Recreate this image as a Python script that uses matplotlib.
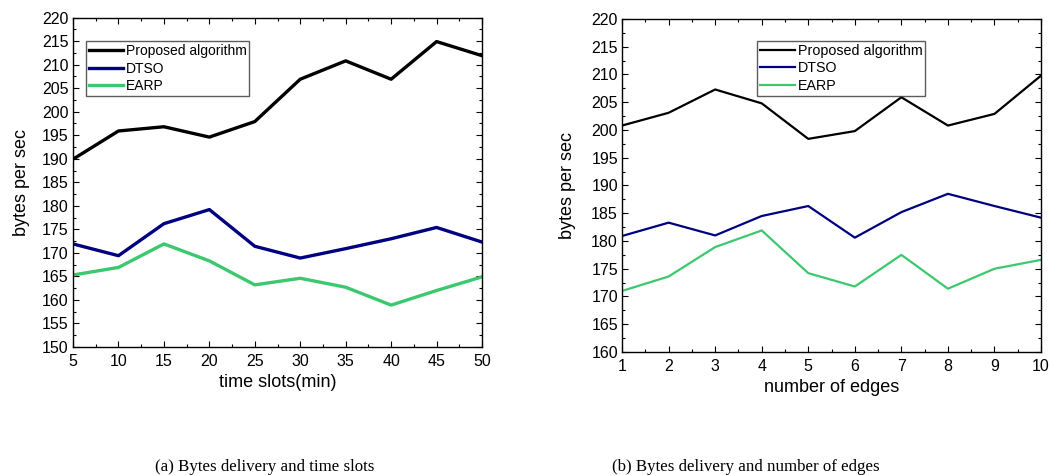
import matplotlib
matplotlib.use("Agg")
import matplotlib.pyplot as plt
from matplotlib.ticker import MultipleLocator

plt.rcParams['font.family'] = ['Liberation Sans', 'DejaVu Sans']

time_slots = [5, 10, 15, 20, 25, 30, 35, 40, 45, 50]
a_proposed = [189.9, 195.9, 196.8, 194.6, 197.9, 206.9, 210.8, 206.9, 214.9, 211.9]
a_dtso = [171.9, 169.4, 176.2, 179.2, 171.4, 168.9, 170.9, 173.0, 175.4, 172.3]
a_earp = [165.3, 166.9, 171.9, 168.3, 163.2, 164.6, 162.7, 158.9, 162.0, 164.9]

edges = [1, 2, 3, 4, 5, 6, 7, 8, 9, 10]
b_proposed = [200.8, 203.1, 207.3, 204.8, 198.4, 199.8, 205.9, 200.8, 202.9, 209.8]
b_dtso = [180.9, 183.3, 181.0, 184.5, 186.3, 180.6, 185.2, 188.5, 186.3, 184.2]
b_earp = [171.0, 173.6, 178.9, 181.9, 174.2, 171.8, 177.5, 171.4, 175.0, 176.6]

series_names = ['Proposed algorithm', 'DTSO', 'EARP']
colors = ['#000000', '#000080', '#3cc86e']

fig = plt.figure(figsize=(10.49, 4.75), dpi=100)
ax1 = fig.add_axes([0.0696, 0.2695, 0.3899, 0.6935])
ax2 = fig.add_axes([0.593, 0.259, 0.3994, 0.701])


def style(ax, xs, ylim, xlabel, ylabelpad):
    ax.set_xlim(xs[0], xs[-1])
    ax.set_ylim(*ylim)
    ax.xaxis.set_major_locator(MultipleLocator(xs[1] - xs[0]))
    ax.xaxis.set_minor_locator(MultipleLocator((xs[1] - xs[0]) / 2))
    ax.yaxis.set_major_locator(MultipleLocator(5))
    ax.yaxis.set_minor_locator(MultipleLocator(2.5))
    ax.tick_params(which='both', direction='in', top=True, right=True,
                   labelsize=11.5, width=0.8, pad=3)
    ax.tick_params(axis='x', pad=5)
    ax.tick_params(which='major', length=4)
    ax.tick_params(which='minor', length=2)
    ax.set_xlabel(xlabel, fontsize=13, labelpad=4)
    ax.set_ylabel('bytes per sec', fontsize=13, labelpad=ylabelpad)
    for s in ax.spines.values():
        s.set_linewidth(1.0)


def legend(ax, anchor, size):
    leg = ax.legend(loc='upper left', bbox_to_anchor=anchor, fontsize=size,
                    frameon=True, fancybox=False, edgecolor='#333333',
                    handlelength=2.45, handletextpad=0.2, borderpad=0.2,
                    labelspacing=0.25, borderaxespad=0)
    leg.get_frame().set_linewidth(1.0)


for vals, name, c in zip([a_proposed, a_dtso, a_earp], series_names, colors):
    ax1.plot(time_slots, vals, color=c, lw=2.4, label=name)
style(ax1, time_slots, (150, 220), 'time slots(min)', 9)
legend(ax1, (0.032, 0.928), 10)

for vals, name, c in zip([b_proposed, b_dtso, b_earp], series_names, colors):
    ax2.plot(edges, vals, color=c, lw=1.6, label=name)
style(ax2, edges, (160, 220), 'number of edges', 11)
ax2.xaxis.set_minor_locator(MultipleLocator(0.5))
legend(ax2, (0.322, 0.934), 10.3)

serif = ['Liberation Serif', 'DejaVu Serif']
fig.text(0.2525, 0.0, '(a) Bytes delivery and time slots', ha='center',
         va='bottom', fontsize=12.2, family=serif)
fig.text(0.7105, 0.0, '(b) Bytes delivery and number of edges', ha='center',
         va='bottom', fontsize=12.2, family=serif)

fig.savefig('out.png', dpi=100)
